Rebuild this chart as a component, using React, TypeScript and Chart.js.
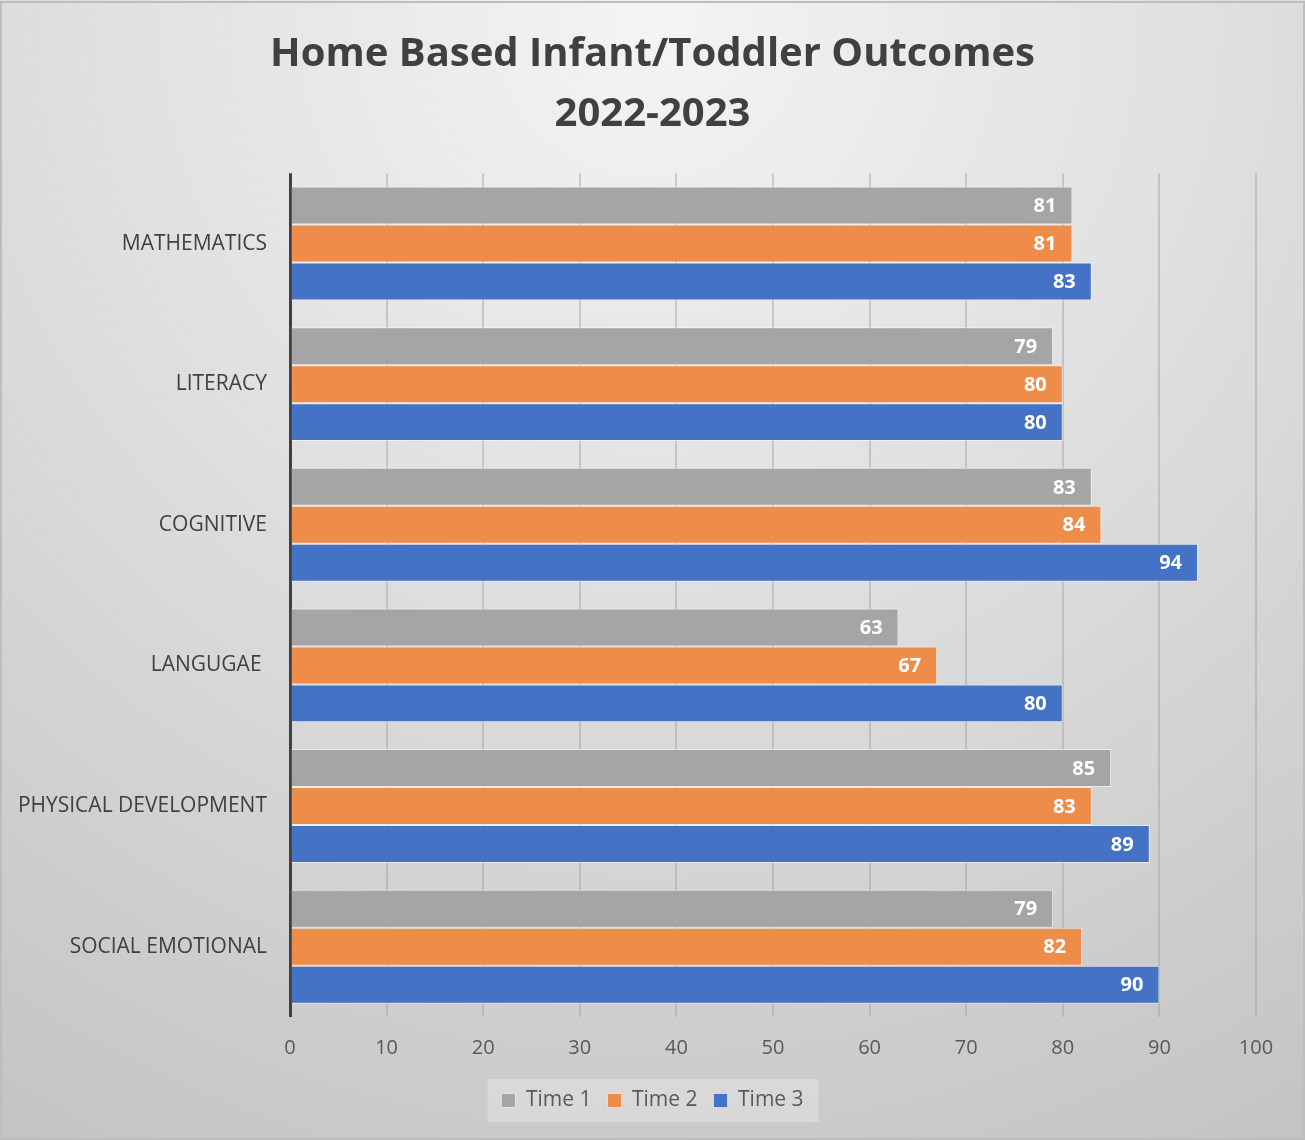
import React, { useEffect, useRef } from "react";
import { Chart, registerables } from "chart.js";

Chart.register(...registerables);

const categories = [
  "MATHEMATICS",
  "LITERACY",
  "COGNITIVE",
  "LANGUGAE ",
  "PHYSICAL DEVELOPMENT",
  "SOCIAL EMOTIONAL",
];
const seriesNames = ["Time 1", "Time 2", "Time 3"];
const time1 = [81, 79, 83, 63, 85, 79];
const time2 = [81, 80, 84, 67, 83, 82];
const time3 = [83, 80, 94, 80, 89, 90];
const seriesColors = ["#a5a5a5", "#ee8c4a", "#4472c4"];
const titleLines = ["Home Based Infant/Toddler Outcomes", "2022-2023"];
const xMin = 0;
const xMax = 100;
const xStep = 10;

const FONT = "'Open Sans', Lato, sans-serif";
const W = 1305;
const H = 1140;

const backgroundPlugin = {
  id: "bgPlugin",
  beforeDraw(chart: any) {
    const ctx = chart.ctx;
    ctx.save();
    const g = ctx.createRadialGradient(650, 20, 0, 650, 20, 1320);
    g.addColorStop(0, "#f4f4f4");
    g.addColorStop(0.5, "#dcdcdc");
    g.addColorStop(1, "#c2c2c2");
    ctx.fillStyle = g;
    ctx.fillRect(0, 0, chart.width, chart.height);
    ctx.strokeStyle = "#bdbdbd";
    ctx.lineWidth = 2;
    ctx.strokeRect(1, 2, chart.width - 2, chart.height - 3);
    // legend background
    const lg = chart.legend;
    if (lg && lg.legendHitBoxes && lg.legendHitBoxes.length) {
      const hb = lg.legendHitBoxes;
      const first = hb[0];
      const last = hb[hb.length - 1];
      const cy = first.top + first.height / 2;
      const x0 = first.left - 14;
      const x1 = last.left + last.width + 15;
      ctx.fillStyle = "rgba(228,228,228,0.55)";
      ctx.fillRect(x0, cy - 21.5, x1 - x0, 43);
    }
    ctx.restore();
  },
};

const labelPlugin = {
  id: "valueLabels",
  afterDatasetsDraw(chart: any) {
    const ctx = chart.ctx;
    ctx.save();
    ctx.fillStyle = "#ffffff";
    ctx.font = `bold 20px ${FONT}`;
    ctx.textAlign = "right";
    ctx.textBaseline = "middle";
    chart.data.datasets.forEach((ds: any, i: number) => {
      const meta = chart.getDatasetMeta(i);
      meta.data.forEach((el: any, j: number) => {
        ctx.fillText(String(ds.data[j]), el.x - 16, el.y + 1);
      });
    });
    ctx.restore();
  },
};

export default function App() {
  const ref = useRef<HTMLCanvasElement>(null);
  useEffect(() => {
    const seriesData = [time1, time2, time3];
    const chart = new Chart(ref.current!, {
      type: "bar",
      data: {
        labels: categories,
        datasets: seriesNames.map((name, i) => ({
          label: name,
          data: seriesData[i],
          backgroundColor: seriesColors[i],
          borderColor: "rgba(255,255,255,0.55)",
          borderWidth: 1,
          categoryPercentage: 0.81,
          barPercentage: 1.0,
        })),
      },
      options: {
        indexAxis: "y",
        responsive: false,
        animation: false,
        devicePixelRatio: 1,
        layout: { padding: { top: 0, left: 0, right: 0, bottom: 19 } },
        scales: {
          x: {
            min: xMin,
            max: xMax,
            ticks: {
              stepSize: xStep,
              color: "#595959",
              font: { family: FONT, size: 20 },
              padding: 19,
            },
            grid: {
              drawTicks: false,
              color: (c: any) => (c.tick && c.tick.value === 0 ? "#404040" : "rgba(160,160,160,0.45)"),
              lineWidth: (c: any) => (c.tick && c.tick.value === 0 ? 3 : 2),
            },
            border: { display: false },
            afterFit: (s: any) => {
              s.height = 57;
            },
          },
          y: {
            ticks: {
              color: "#404040",
              font: { family: FONT, size: 21 },
              padding: 23,
            },
            grid: { display: false, drawTicks: false },
            border: { display: false },
            afterFit: (s: any) => {
              s.width = 290;
            },
          },
          y2: {
            position: "right",
            display: true,
            ticks: { display: false },
            grid: { display: false, drawTicks: false },
            border: { display: false },
            afterFit: (s: any) => {
              s.width = 49;
            },
          },
        },
        plugins: {
          title: {
            display: true,
            text: titleLines,
            color: "#404040",
            font: { family: FONT, size: 40, weight: "bold", lineHeight: 1.49 },
            padding: { top: 25, bottom: 29 },
          },
          legend: {
            position: "bottom",
            labels: {
              color: "#595959",
              font: { family: FONT, size: 21 },
              boxWidth: 14,
              boxHeight: 14,
              padding: 16,
            },
          },
          tooltip: { enabled: false },
        },
      },
      plugins: [backgroundPlugin, labelPlugin],
    } as any);
    return () => chart.destroy();
  }, []);
  return (
    <div style={{ position: "fixed", left: 0, top: 0, width: W, height: H }}>
      <canvas ref={ref} width={W} height={H} style={{ width: W, height: H, display: "block" }} />
    </div>
  );
}
